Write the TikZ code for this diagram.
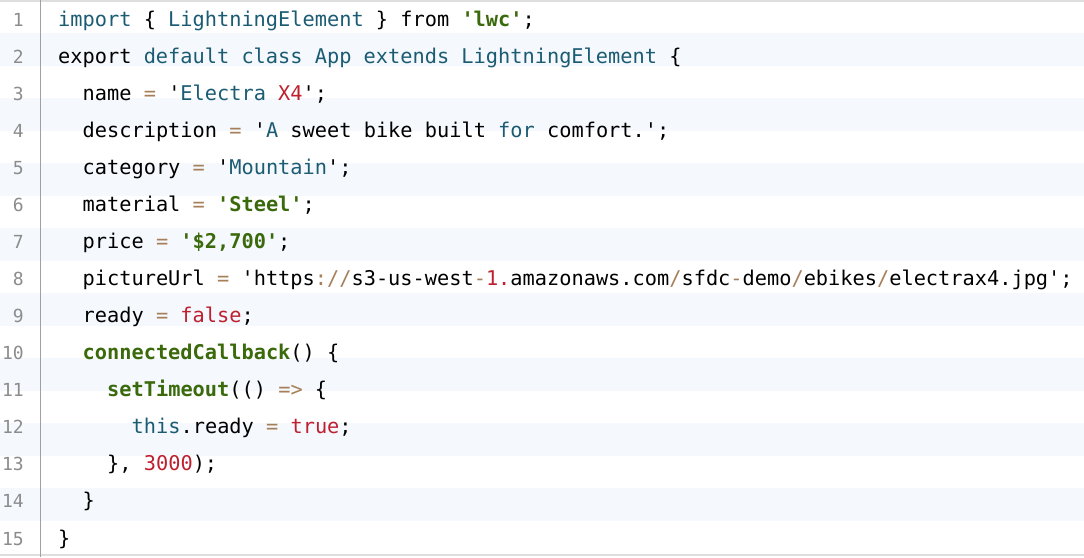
\documentclass[tikz,border=0pt]{standalone}
\usepackage{fontspec}
\setmonofont{DejaVu Sans Mono}
\frenchspacing

\definecolor{codeTeal}{RGB}{27,92,115}
\definecolor{codeGreen}{RGB}{58,106,12}
\definecolor{codeRed}{RGB}{190,32,48}
\definecolor{codeBrown}{RGB}{166,127,89}
\definecolor{numGray}{RGB}{140,140,140}
\definecolor{gutterGray}{RGB}{160,160,160}
\definecolor{borderGray}{RGB}{222,222,222}
\definecolor{stripeBlue}{RGB}{245,248,252}

\newcommand\codeKw[1]{\textcolor{codeTeal}{#1}}
\newcommand\codeStr[1]{\textcolor{codeGreen}{\bfseries #1}}
\newcommand\codeFn[1]{\textcolor{codeGreen}{\bfseries #1}}
\newcommand\codeNum[1]{\textcolor{codeRed}{#1}}
\newcommand\codeOp[1]{\textcolor{codeBrown}{#1}}

\begin{document}
\begin{tikzpicture}[x=1pt,y=1pt,
  codeline/.style={anchor=base west, inner sep=0pt, font=\ttfamily\fontsize{20.3}{24}\selectfont},
  linenum/.style={anchor=base east, inner sep=0pt, text=numGray, font=\ttfamily\fontsize{18}{21}\selectfont}]

% Variablen
\def\indentStep{24.5}
\def\lineStep{37}

% Hintergrund
\useasboundingbox (0,0) rectangle (1084,557);
\fill[white] (0,0) rectangle (1084,557);
\foreach \k in {0,...,7}
  \fill[stripeBlue] (0,{557-33-65*\k}) rectangle (1084,{557-66-65*\k});
\draw[borderGray, line width=1.5pt] (0,556.2) -- (1084,556.2);
\draw[borderGray, line width=1.5pt] (0,2) -- (1084,2);
\draw[gutterGray, line width=1pt] (40.5,0) -- (40.5,557);

% Zeilennummern
\foreach \n in {1,...,15}
  \node[linenum] (N\n) at (24,{530-\lineStep*(\n-1)}) {\n};

% Code
\node[codeline] (L1) at (58,530) {\codeKw{import} \{ \codeKw{LightningElement} \} from \codeStr{'lwc'};};
\node[codeline] (L2) at (58,{530-1*\lineStep}) {export \codeKw{default class App extends LightningElement} \{};
\node[codeline] (L3) at ({58+\indentStep},{530-2*\lineStep}) {name \codeOp{=} '\codeKw{Electra} \codeNum{X4}';};
\node[codeline] (L4) at ({58+\indentStep},{530-3*\lineStep}) {description \codeOp{=} '\codeKw{A} sweet bike built \codeKw{for} comfort.';};
\node[codeline] (L5) at ({58+\indentStep},{530-4*\lineStep}) {category \codeOp{=} '\codeKw{Mountain}';};
\node[codeline] (L6) at ({58+\indentStep},{530-5*\lineStep}) {material \codeOp{=} \codeStr{'Steel'};};
\node[codeline] (L7) at ({58+\indentStep},{530-6*\lineStep}) {price \codeOp{=} \codeStr{'\$2,700'};};
\node[codeline] (L8) at ({58+\indentStep},{530-7*\lineStep}) {pictureUrl \codeOp{=} 'https\codeOp{://}s3-us-west\codeOp{-}\codeNum{1.}amazonaws.com\codeOp{/}sfdc\codeOp{-}demo\codeOp{/}ebikes\codeOp{/}electrax4.jpg';};
\node[codeline] (L9) at ({58+\indentStep},{530-8*\lineStep}) {ready \codeOp{=} \codeNum{false};};
\node[codeline] (L10) at ({58+\indentStep},{530-9*\lineStep}) {\codeFn{connectedCallback}() \{};
\node[codeline] (L11) at ({58+2*\indentStep},{530-10*\lineStep}) {\codeFn{setTimeout}(() \codeOp{=>} \{};
\node[codeline] (L12) at ({58+3*\indentStep},{530-11*\lineStep}) {\codeKw{this}.ready \codeOp{=} \codeNum{true};};
\node[codeline] (L13) at ({58+2*\indentStep},{530-12*\lineStep}) {\}, \codeNum{3000});};
\node[codeline] (L14) at ({58+\indentStep},{530-13*\lineStep}) {\}};
\node[codeline] (L15) at (58,{530-14*\lineStep}) {\}};

\end{tikzpicture}
\end{document}
